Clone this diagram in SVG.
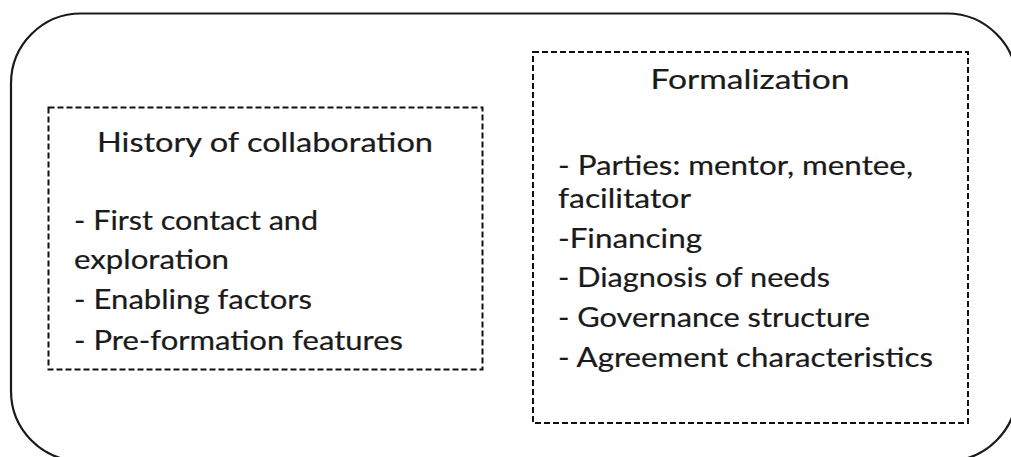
<svg xmlns="http://www.w3.org/2000/svg" width="1011" height="457" viewBox="0 0 1011 457">
<style>
.outer{fill:none;stroke:#1a1a1a;stroke-width:2.2}
.box{fill:#fff;stroke:#111;stroke-width:2;stroke-dasharray:6 3}
text{font-family:Lato,"Open Sans","Liberation Sans",sans-serif;font-size:26px;fill:#1a1a1a;stroke:#1a1a1a;stroke-width:0.2}
.c{text-anchor:middle}
</style>
<rect width="1011" height="457" fill="#fff"/>
<g id="container">
<rect class="outer" x="11" y="13.5" width="1006" height="447.5" rx="70" ry="70"/>
</g>
<g id="connectors"></g>
<g id="history">
<rect class="box" x="48.5" y="107.5" width="434" height="262"/>
<text class="c" x="265" y="152" textLength="336" lengthAdjust="spacingAndGlyphs">History of collaboration</text>
<text x="74" y="230" textLength="244" lengthAdjust="spacingAndGlyphs">- First contact and</text>
<text x="74" y="269" textLength="155" lengthAdjust="spacingAndGlyphs">exploration</text>
<text x="74" y="309" textLength="238" lengthAdjust="spacingAndGlyphs">- Enabling factors</text>
<text x="74" y="350" textLength="329" lengthAdjust="spacingAndGlyphs">- Pre-formation features</text>
</g>
<g id="formalization">
<rect class="box" x="533" y="52" width="435" height="371"/>
<text class="c" x="750" y="89" textLength="199" lengthAdjust="spacingAndGlyphs">Formalization</text>
<text x="558" y="175" textLength="355" lengthAdjust="spacingAndGlyphs">- Parties: mentor, mentee,</text>
<text x="558" y="208" textLength="133" lengthAdjust="spacingAndGlyphs">facilitator</text>
<text x="558" y="248" textLength="144" lengthAdjust="spacingAndGlyphs">-Financing</text>
<text x="558" y="287" textLength="272" lengthAdjust="spacingAndGlyphs">- Diagnosis of needs</text>
<text x="558" y="327" textLength="312" lengthAdjust="spacingAndGlyphs">- Governance structure</text>
<text x="558" y="367" textLength="375" lengthAdjust="spacingAndGlyphs">- Agreement characteristics</text>
</g>
</svg>
